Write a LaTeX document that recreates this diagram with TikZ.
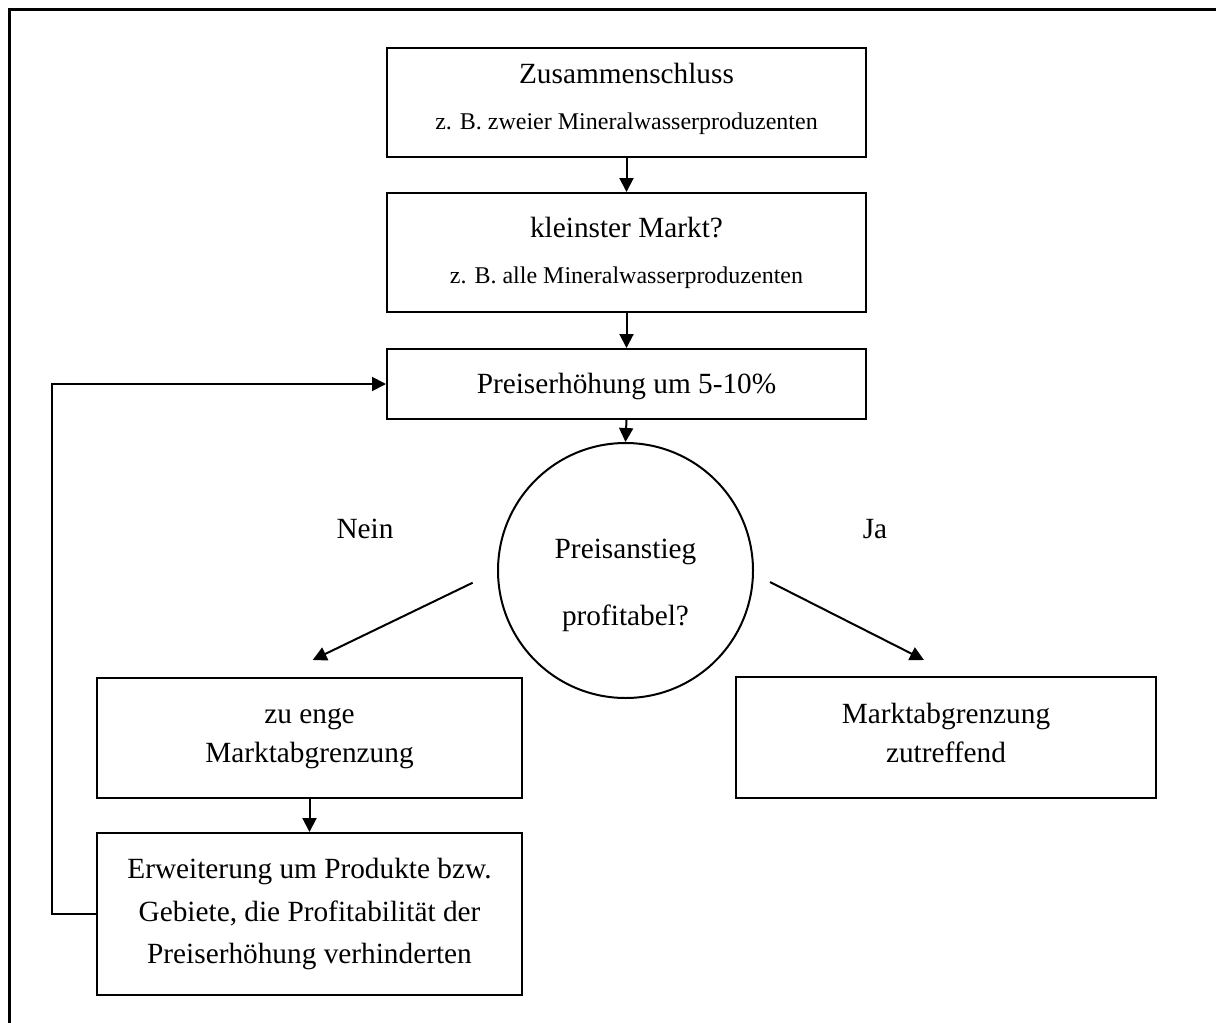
\documentclass[tikz,border=0pt]{standalone}
\usepackage{fontspec}
\setmainfont{Liberation Serif}
\usetikzlibrary{arrows.meta}
\tikzset{
  box/.style={draw, line width=2pt, rectangle, inner sep=0pt},
  circ/.style={draw, line width=2pt, circle, inner sep=0pt},
  big/.style={font=\fontsize{29.3}{35}\selectfont, anchor=base, inner sep=0pt},
  small/.style={font=\fontsize{24}{29}\selectfont, anchor=base, inner sep=0pt},
  arr/.style={line width=2pt, -{Triangle[length=14pt,width=14pt]}},
}
\begin{document}
\begin{tikzpicture}[x=1pt,y=-1pt]
\useasboundingbox (0,0) rectangle (1216,1023);
\draw[line width=3pt] (1216,9.5) -- (9.5,9.5) -- (9.5,1023);
% boxes
\node[box, minimum width=479pt, minimum height=109pt] (zus) at (626.5,102.5) {};
\node[box, minimum width=479pt, minimum height=119pt] (klein) at (626.5,252.5) {};
\node[box, minimum width=479pt, minimum height=70pt] (preis) at (626.5,384) {};
\node[circ, minimum size=255pt] (prof) at (625.5,570.5) {};
\node[box, minimum width=425pt, minimum height=120pt] (enge) at (309.5,738) {};
\node[box, minimum width=425pt, minimum height=162pt] (erw) at (309.5,914) {};
\node[box, minimum width=420pt, minimum height=121pt] (zutr) at (946,737.5) {};
% texts
\node[big] (t1) at (626.5,83) {Zusammenschluss};
\node[small] (t1b) at (626.5,129) {z. B. zweier Mineralwasserproduzenten};
\node[big] (t2) at (626.5,237) {kleinster Markt?};
\node[small] (t2b) at (626.5,283) {z. B. alle Mineralwasserproduzenten};
\node[big] (t3) at (626.5,393) {Preiserhöhung um 5-10\%};
\node[big] (t4) at (625.5,558) {Preisanstieg};
\node[big] (t4b) at (625.5,625) {profitabel?};
\node[big] (nein) at (365,538) {Nein};
\node[big] (ja) at (875,538) {Ja};
\node[big] (t5) at (309.5,723) {zu enge};
\node[big] (t5b) at (309.5,762) {Marktabgrenzung};
\node[big] (t6) at (309.5,878) {Erweiterung um Produkte bzw.};
\node[big] (t6b) at (309.5,921) {Gebiete, die Profitabilität der};
\node[big] (t6c) at (309.5,963) {Preiserhöhung verhinderten};
\node[big] (t7) at (946,723) {Marktabgrenzung};
\node[big] (t7b) at (946,762) {zutreffend};
% connectors
\draw[arr] (zus.south) -- (klein.north);
\draw[arr] (klein.south) -- (preis.north);
\draw[arr] (preis.south) -- (prof.north);
\draw[arr] (enge.south) -- (erw.north);
\coordinate (nstart) at (472.7,582.7);
\coordinate (nend) at (312.7,660);
\coordinate (jstart) at (770,582);
\coordinate (jend) at (924,660);
\draw[arr] (nstart) -- (nend);
\draw[arr] (jstart) -- (jend);
\coordinate (loop) at (52,914);
\draw[arr] (erw.west) -- (loop) |- (preis.west);
\end{tikzpicture}
\end{document}
